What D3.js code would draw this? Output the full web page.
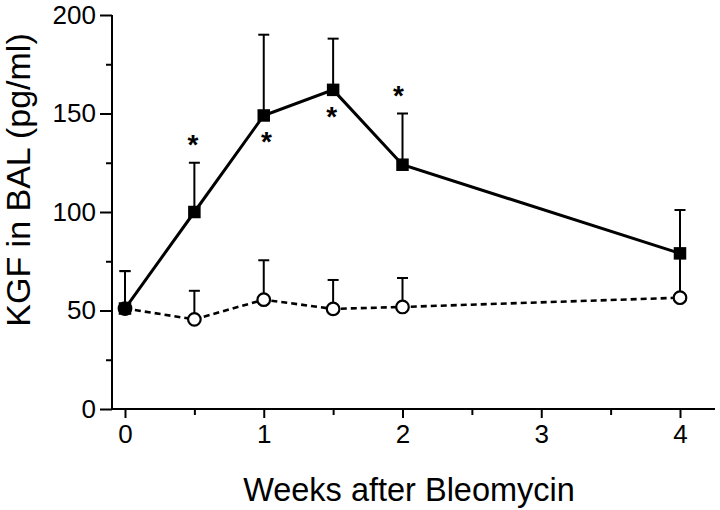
<!DOCTYPE html>
<html><head><meta charset="utf-8">
<script src="https://cdn.jsdelivr.net/npm/d3@7"></script>
<style>body{margin:0;background:#fff}svg{display:block}</style>
</head><body>
<svg id="c" width="720" height="510"></svg>
<script>
const weeks = [0, 0.5, 1, 1.5, 2, 4];
const bleoMean = [51, 100, 149, 162, 124, 79];
const bleoErrTop = [70, 125, 190, 188, 150, 101];
const salineMean = [51, 45.5, 55.5, 50.8, 51.8, 56.5];
const salineErrTop = [70, 60, 75.5, 65.5, 66.5, 79];
const starWeeks = [0.49, 1.02, 1.49, 1.97];
const starValues = [136, 137.5, 150.5, 161];
const yMajorTicks = [0, 50, 100, 150, 200];
const yMinorTicks = [25, 75, 125, 175];
const xMajorTicks = [0, 1, 2, 3, 4];
const xMinorTicks = [0.5, 1.5, 2.5, 3.5];

const svg = d3.select("#c");
const font = "'Liberation Sans', Arial, Helvetica, sans-serif";
const x = d3.scaleLinear().domain([0, 4]).range([125, 680]);
const y = d3.scaleLinear().domain([0, 200]).range([409, 15]);
const axisX0 = 112;

// Y axis
const gy = svg.append("g").attr("transform", `translate(${axisX0},0)`);
gy.call(d3.axisLeft(y).tickValues(yMajorTicks).tickSize(12).tickPadding(4).tickSizeOuter(0).tickFormat(d3.format("d")));
gy.append("g").call(d3.axisLeft(y).tickValues(yMinorTicks).tickSize(6).tickFormat("").tickSizeOuter(0)).select(".domain").remove();
gy.selectAll(".domain").attr("d", `M0,${y(200)}V${y(0)}`);
// X axis
const gx = svg.append("g").attr("transform", `translate(0,${y(0)})`);
gx.call(d3.axisBottom(x).tickValues(xMajorTicks).tickSize(9).tickPadding(7).tickSizeOuter(0).tickFormat(d3.format("d")));
gx.append("g").call(d3.axisBottom(x).tickValues(xMinorTicks).tickSize(6).tickFormat("").tickSizeOuter(0)).select(".domain").remove();
gx.select(".domain").attr("d", `M${axisX0},0H715`);

svg.selectAll(".domain, .tick line").attr("stroke", "#000").attr("stroke-width", 2);
svg.selectAll(".tick text").attr("font-family", font).attr("font-size", 26).attr("fill", "#000");

// Titles
svg.append("text").attr("x", 409).attr("y", 501).attr("text-anchor", "middle")
  .attr("font-family", font).attr("font-size", 32.5).text("Weeks after Bleomycin");
svg.append("text").attr("transform", "translate(30,180) rotate(-90)").attr("text-anchor", "middle")
  .attr("font-family", font).attr("font-size", 34).text("KGF in BAL (pg/ml)");

const line = d3.line().x(d => x(d[0])).y(d => y(d[1]));
const cap = 5.5;

// Saline
const sal = weeks.map((w, i) => [w, salineMean[i], salineErrTop[i]]);
svg.append("path").attr("d", line(sal)).attr("fill", "none").attr("stroke", "#000")
  .attr("stroke-width", 2.6).attr("stroke-dasharray", "6,4");
const se = svg.append("g").attr("stroke", "#000").attr("stroke-width", 2);
sal.forEach(d => {
  se.append("line").attr("x1", x(d[0])).attr("x2", x(d[0])).attr("y1", y(d[1])).attr("y2", y(d[2]));
  se.append("line").attr("x1", x(d[0]) - cap).attr("x2", x(d[0]) + cap).attr("y1", y(d[2])).attr("y2", y(d[2]));
});
svg.append("g").selectAll("circle").data(sal).join("circle")
  .attr("cx", d => x(d[0])).attr("cy", d => y(d[1])).attr("r", 6.3)
  .attr("fill", "#fff").attr("stroke", "#000").attr("stroke-width", 2.2);

// Bleomycin
const bl = weeks.map((w, i) => [w, bleoMean[i], bleoErrTop[i]]);
const be = svg.append("g").attr("stroke", "#000").attr("stroke-width", 2);
bl.forEach(d => {
  be.append("line").attr("x1", x(d[0])).attr("x2", x(d[0])).attr("y1", y(d[1])).attr("y2", y(d[2]));
  be.append("line").attr("x1", x(d[0]) - cap).attr("x2", x(d[0]) + cap).attr("y1", y(d[2])).attr("y2", y(d[2]));
});
svg.append("path").attr("d", line(bl)).attr("fill", "none").attr("stroke", "#000").attr("stroke-width", 3);
const sq = 12.5;
svg.append("g").selectAll("rect").data(bl).join("rect")
  .attr("x", d => x(d[0]) - sq / 2).attr("y", d => y(d[1]) - sq / 2)
  .attr("width", sq).attr("height", sq).attr("fill", "#000");

// Asterisks
svg.append("g").selectAll("text").data(starWeeks).join("text")
  .attr("x", (d, i) => x(d)).attr("y", (d, i) => y(starValues[i]) + 13)
  .attr("text-anchor", "middle").attr("font-family", font).attr("font-size", 28).attr("font-weight", "bold")
  .text("*");
</script>
</body></html>
